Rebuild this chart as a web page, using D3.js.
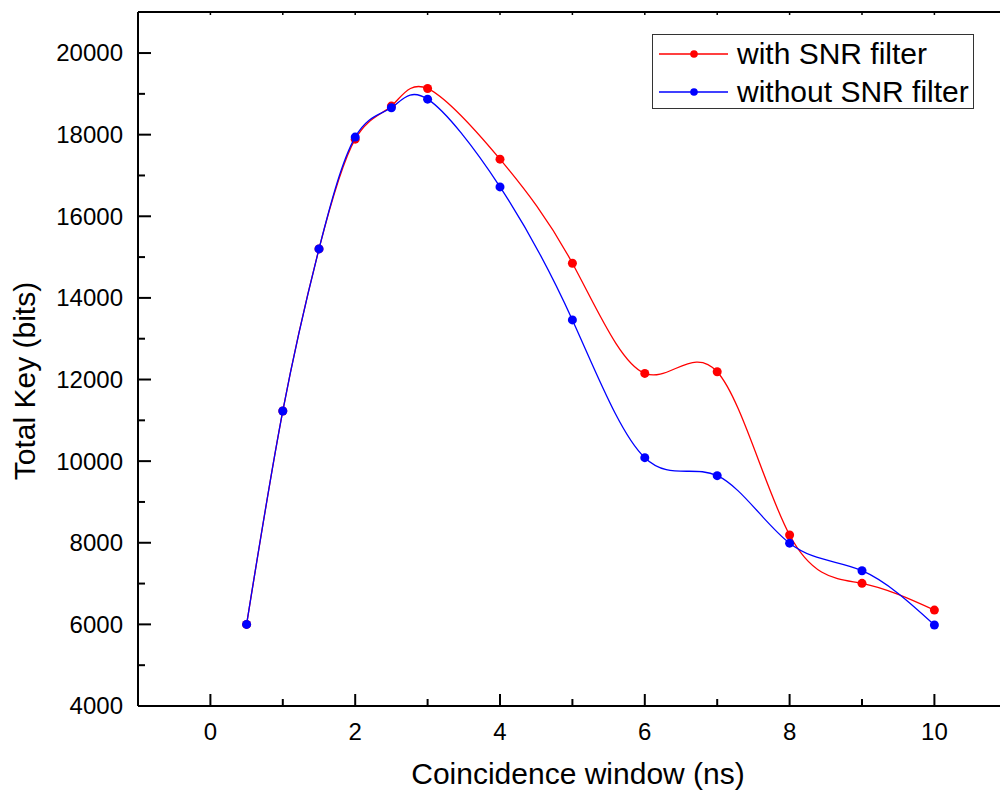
<!DOCTYPE html>
<html>
<head>
<meta charset="utf-8">
<script src="https://cdn.jsdelivr.net/npm/d3@7.9.0/dist/d3.min.js"></script>
<style>
  body { margin: 0; background: #fff; }
  svg { display: block; font-family: "Liberation Sans", Arial, sans-serif; }
</style>
</head>
<body>
<svg id="chart" width="1000" height="793"></svg>
<script>
// data
const windows = [0.5, 1, 1.5, 2, 2.5, 3, 4, 5, 6, 7, 8, 9, 10];
const withFilter = [6000, 11230, 15200, 17890, 18700, 19130, 17400, 14850, 12150, 12190, 8190, 7005, 6350];
const withoutFilter = [6000, 11230, 15200, 17940, 18660, 18870, 16720, 13460, 10085, 9645, 7990, 7315, 5985];
const seriesNames = ['with SNR filter', 'without SNR filter'];
const seriesColors = ['#ff0000', '#0000ff'];
const xTicks = [0, 2, 4, 6, 8, 10];
const yTicks = [4000, 6000, 8000, 10000, 12000, 14000, 16000, 18000, 20000];

const svg = d3.select('#chart');
const plotLeft = 138, plotTop = 12, plotBottom = 706;

const x = d3.scaleLinear().domain([-1, 11]).range([plotLeft, plotLeft + 12 * 72.4]);
const y = d3.scaleLinear().domain([4000, 21000]).range([plotBottom, plotBottom - 17000 * 0.04081]);

// minor ticks
const xMinor = d3.range(-1, 12, 1).filter(v => !xTicks.includes(v));
const yMinor = d3.range(5000, 21000, 2000);

// bottom axis
const gx = svg.append('g').attr('transform', `translate(0,${plotBottom})`);
gx.append('line').attr('x1', plotLeft).attr('x2', 1000).attr('stroke', '#000').attr('stroke-width', 2);
gx.selectAll('.maj').data(xTicks).join('line')
  .attr('x1', d => x(d)).attr('x2', d => x(d)).attr('y1', 0).attr('y2', -12)
  .attr('stroke', '#000').attr('stroke-width', 2);
gx.selectAll('.min').data(xMinor).join('line')
  .attr('x1', d => x(d)).attr('x2', d => x(d)).attr('y1', 0).attr('y2', -7)
  .attr('stroke', '#000').attr('stroke-width', 2);
gx.selectAll('text').data(xTicks).join('text')
  .attr('x', d => x(d)).attr('y', 34).attr('text-anchor', 'middle')
  .attr('font-size', 24).text(d => d);

// top axis
const gt = svg.append('g').attr('transform', `translate(0,${plotTop})`);
gt.append('line').attr('x1', plotLeft).attr('x2', 1000).attr('stroke', '#000').attr('stroke-width', 2);
gt.selectAll('line.t').data(d3.range(0, 11)).join('line').attr('class', 't')
  .attr('x1', d => x(d)).attr('x2', d => x(d)).attr('y1', 0).attr('y2', 3)
  .attr('stroke', '#000').attr('stroke-width', 1.5);

// left axis
const gy = svg.append('g').attr('transform', `translate(${plotLeft},0)`);
gy.append('line').attr('y1', plotTop).attr('y2', plotBottom).attr('stroke', '#000').attr('stroke-width', 2);
gy.selectAll('.maj').data(yTicks).join('line')
  .attr('y1', d => y(d)).attr('y2', d => y(d)).attr('x1', 0).attr('x2', 13)
  .attr('stroke', '#000').attr('stroke-width', 2);
gy.selectAll('.min').data(yMinor).join('line')
  .attr('y1', d => y(d)).attr('y2', d => y(d)).attr('x1', 0).attr('x2', 7)
  .attr('stroke', '#000').attr('stroke-width', 2);
gy.selectAll('text').data(yTicks).join('text')
  .attr('x', -15).attr('y', d => y(d)).attr('dy', '0.35em').attr('text-anchor', 'end')
  .attr('font-size', 24).text(d => d);

// axis titles
svg.append('text').attr('x', 578).attr('y', 784).attr('text-anchor', 'middle')
  .attr('font-size', 30).text('Coincidence window (ns)');
svg.append('text').attr('transform', 'translate(35,381) rotate(-90)').attr('text-anchor', 'middle')
  .attr('font-size', 30).text('Total Key (bits)');

// series
const line = d3.line().x(d => x(d[0])).y(d => y(d[1])).curve(d3.curveNatural);
[withFilter, withoutFilter].forEach((vals, i) => {
  const pts = windows.map((w, j) => [w, vals[j]]);
  const g = svg.append('g');
  g.append('path').attr('d', line(pts)).attr('fill', 'none')
    .attr('stroke', seriesColors[i]).attr('stroke-width', 1.3);
  g.selectAll('circle').data(pts).join('circle')
    .attr('cx', d => x(d[0])).attr('cy', d => y(d[1])).attr('r', 4.5)
    .attr('fill', seriesColors[i]);
});

// legend
const lg = svg.append('g');
lg.append('rect').attr('x', 652.5).attr('y', 34.5).attr('width', 321).attr('height', 74)
  .attr('fill', '#fff').attr('stroke', '#333').attr('stroke-width', 1);
seriesNames.forEach((name, i) => {
  const cy = 54 + i * 38;
  lg.append('line').attr('x1', 659).attr('x2', 728).attr('y1', cy).attr('y2', cy)
    .attr('stroke', seriesColors[i]).attr('stroke-width', 1.3);
  lg.append('circle').attr('cx', 694).attr('cy', cy).attr('r', 3.8).attr('fill', seriesColors[i]);
  lg.append('text').attr('x', 737).attr('y', cy + 10).attr('font-size', 30).text(name);
});
</script>
</body>
</html>
